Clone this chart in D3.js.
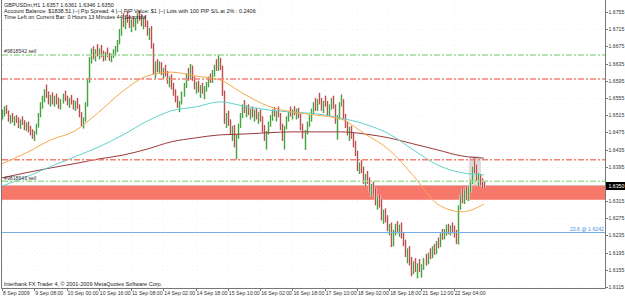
<!DOCTYPE html>
<html>
<head>
<meta charset="utf-8">
<script src="https://cdn.jsdelivr.net/npm/d3@7"></script>
<style>
  html, body { margin: 0; padding: 0; background: #fff; }
  svg { display: block; font-family: 'Liberation Sans', Arial, sans-serif; }
</style>
</head>
<body>
<div id="chart"></div>
<script>
// H1 bars, [open, high, low, close] in pips above 1.6000, one array per day
const sep08 = [[515,528,505,520],[520,535,512,530],[530,538,518,522],[522,526,500,505],[505,515,495,510],[510,520,498,502],[502,512,490,508],[508,515,497,500]];
const sep09 = [[500,510,485,490],[490,505,483,500],[500,512,492,495],[495,503,480,485],[485,498,478,493],[493,500,475,480],[480,490,468,472],[472,482,460,465],[465,478,455,475],[475,495,470,490],[490,520,486,515],[515,545,510,540],[540,560,530,552],[552,575,545,565],[565,586,555,560],[560,570,540,548],[548,562,535,555],[555,568,540,545],[545,560,535,552],[552,565,540,545],[545,556,530,538],[538,552,528,548],[548,565,542,558],[558,572,548,552]];
const sep10 = [[552,560,538,545],[545,555,532,550],[550,562,540,542],[542,550,528,535],[535,548,525,545],[545,555,530,532],[532,540,510,515],[515,522,490,495],[495,510,484,505],[505,545,500,540],[540,600,535,595],[595,650,590,645],[645,670,635,660],[660,675,645,650],[650,668,640,662],[662,680,652,655],[655,670,645,665],[665,678,650,655],[655,665,640,648],[648,662,642,658],[658,672,650,652],[652,660,641,645],[645,658,638,655],[655,668,648,660]];
const sep11 = [[660,676,652,670],[670,690,662,685],[685,715,680,710],[710,740,700,735],[735,752,720,728],[728,745,715,740],[740,757,730,735],[735,748,718,722],[722,738,708,730],[730,745,720,725],[725,740,712,735],[735,752,728,745],[745,758,735,740],[740,750,722,728],[728,742,715,735],[735,748,720,725],[725,735,700,705],[705,718,690,712],[712,722,670,675],[675,682,610,620],[620,640,600,632],[632,645,615,625]];
const sep14 = [[625,640,612,630],[630,638,608,612],[612,625,600,620],[620,632,605,610],[610,618,588,592],[592,605,580,600],[600,610,575,580],[580,590,560,565],[565,575,545,550],[550,560,532,540],[540,548,522,545],[545,570,540,565],[565,590,558,585],[585,612,578,605],[605,625,595,600],[600,634,598,625],[625,630,595,598],[598,605,575,580],[580,592,565,585],[585,595,568,572],[572,585,555,580],[580,590,565,570],[570,582,552,575],[575,592,570,588]];
const sep15 = [[588,605,580,600],[600,612,590,595],[595,620,590,615],[615,632,605,628],[628,645,618,622],[622,656,618,640],[640,648,620,625],[625,630,560,565],[565,572,495,500],[500,520,485,510],[510,525,490,495],[495,505,470,475],[475,490,455,485],[485,492,440,445],[445,470,412,465],[465,495,460,490],[490,520,485,515],[515,540,508,535],[535,550,520,525],[525,538,510,532],[532,540,515,518],[518,530,505,525],[525,535,510,515],[515,528,500,520]];
const sep16 = [[520,532,505,510],[510,522,495,518],[518,528,500,505],[505,512,475,480],[480,492,455,460],[460,478,435,475],[475,500,470,495],[495,515,488,510],[510,528,502,520],[520,534,512,515],[515,525,500,522],[522,535,510,512],[512,520,480,485],[485,495,455,460],[460,490,435,488],[488,512,482,508],[508,525,500,520],[520,535,512,515],[515,528,505,525],[525,536,515,518],[518,530,505,522],[522,532,508,510],[510,518,480,485],[485,495,460,465]];
const sep17 = [[465,480,434,475],[475,500,470,495],[495,515,488,510],[510,530,500,525],[525,545,518,540],[540,555,525,530],[530,552,525,548],[548,567,540,545],[545,555,525,530],[530,548,520,542],[542,560,535,538],[538,548,515,520],[520,540,512,535],[535,555,528,550],[550,560,530,532],[532,540,495,500],[500,515,458,510],[510,545,505,540],[540,563,535,545],[545,552,505,510],[510,518,485,490],[490,500,468,475],[475,488,455,480],[480,490,460,465]];
const sep18 = [[465,475,440,445],[445,455,420,425],[425,432,385,390],[390,405,378,400],[400,410,380,385],[385,395,355,362],[362,378,350,372],[372,385,355,360],[360,370,335,340],[340,355,325,350],[350,360,330,335],[335,345,305,310],[310,325,295,320],[320,330,300,305],[305,320,270,280],[280,295,262,288],[288,298,265,270],[270,282,245,250],[250,262,235,258],[258,265,208,215],[215,248,210,242],[242,262,235,255]];
const sep21 = [[255,268,240,245],[245,260,232,250],[250,265,228,232],[232,242,210,215],[215,225,185,190],[190,205,170,200],[200,210,165,170],[170,185,140,148],[148,175,145,170],[170,182,150,155],[155,170,135,165],[165,180,150,152],[152,168,137,160],[160,182,155,178],[178,192,165,170],[170,195,168,190],[190,205,180,185],[185,210,182,205],[205,215,190,195],[195,222,192,218],[218,230,205,210],[210,240,208,235],[235,250,225,230],[230,250,226,245]];
const sep22 = [[245,260,235,250],[250,262,238,242],[242,258,235,255],[255,265,240,245],[245,258,230,235],[235,248,215,220],[220,305,214,300],[300,330,295,325],[325,345,310,315],[315,340,308,335],[335,350,318,322],[322,348,315,345],[345,365,335,360],[360,395,355,390],[390,415,380,385],[385,400,362,368],[368,380,350,372],[372,378,352,358],[358,368,345,357],[357,361,346,350]];

const priceBase = 1.6;
const pip = 0.0001;

// Moving averages (pips above 1.6000) at these bar indices
const maBars = [0,12,24,36,48,60,72,84,96,108,120,132,144,156,168,180,192,204,216,228,239];
const maOrange = [402,427,457,478,522,571,606,615,606,597,564,536,522,515,506,471,434,374,308,290,308];
const maCyan = [350,371,395,418,441,469,501,525,534,546,536,527,522,518,508,494,471,434,399,381,376];
const maBrown = [369,381,392,402,413,422,436,453,462,469,471,474,476,476,476,471,462,448,434,420,415];

// Axis ticks
const priceTicks = [1.6755,1.6715,1.6675,1.6635,1.6595,1.6555,1.6515,1.6475,1.6435,1.6395,1.6315,1.6275,1.6235,1.6195,1.6155,1.6115];
const timeTickBars = [0,16,32,48,64,80,96,112,128,144,160,176,192,208,224];
const timeLabels = ['8 Sep 2009','9 Sep 08:00','10 Sep 00:00','10 Sep 16:00','11 Sep 08:00','14 Sep 02:00','14 Sep 18:00','15 Sep 10:00','16 Sep 02:00','16 Sep 18:00','17 Sep 10:00','18 Sep 02:00','18 Sep 18:00','21 Sep 12:00','22 Sep 04:00'];

// Objects on the chart
const orderLevels = [1.6655, 1.6361];
const orderNames = ['#9818542 sell', '#9818643 sell'];
const stopLevels = [1.6599, 1.6411];
const fibLevel = 1.6242;
const fibText = '23.6 @ 1.6242';
const zone = [1.6350, 1.6318];
const lastPrice = 1.6350;
const highlightBars = [233, 236];
const highlightPrices = [1.6420, 1.6352];

const headerLines = [
  'GBPUSDm,H1  1.6357 1.6361 1.6346 1.6350',
  'Account Balance: $1838.51 |--| Pip Spread: 4 |--| PIP Value: $1 |--| Lots with 100 PIP S/L at 2% : 0.2406',
  'Time Left on Current Bar: 0 Hours 13 Minutes 44 Seconds'
];
const copyright = 'Interbank FX Trader 4, \u00a9 2001-2009 MetaQuotes Software Corp.';

const bars = [].concat(sep08, sep09, sep10, sep11, sep14, sep15, sep16, sep17, sep18, sep21, sep22);
const price = v => priceBase + v * pip;

// Set up dimensions
const width = 625, height = 297;
const plotRight = 605, plotBottom = 288;

const svg = d3.select('#chart')
  .append('svg')
    .attr('width', width)
    .attr('height', height);

svg.append('rect')
  .attr('width', width)
  .attr('height', height)
  .attr('fill', '#ffffff');

const x = d3.scaleLinear()
  .domain([0, 239])
  .range([2, 484]);

const y = d3.scaleLinear()
  .domain([1.6115, 1.6755])
  .range([287, 12]);

const snap = v => Math.round(v) + 0.5;

// Dotted grid
svg.append('g')
  .selectAll('line')
  .data(priceTicks)
  .join('line')
    .attr('x1', 2).attr('x2', plotRight)
    .attr('y1', d => snap(y(d))).attr('y2', d => snap(y(d)))
    .attr('stroke', '#e4e4e4')
    .attr('stroke-width', 0.6)
    .attr('stroke-dasharray', '1,4');

svg.append('g')
  .selectAll('line')
  .data(timeTickBars)
  .join('line')
    .attr('x1', d => snap(x(d))).attr('x2', d => snap(x(d)))
    .attr('y1', 0).attr('y2', plotBottom)
    .attr('stroke', '#e4e4e4')
    .attr('stroke-width', 0.6)
    .attr('stroke-dasharray', '1,4');

// Filled zone (rectangle object)
svg.append('rect')
  .attr('x', 2)
  .attr('y', y(zone[0]))
  .attr('width', plotRight - 2)
  .attr('height', y(zone[1]) - y(zone[0]))
  .attr('fill', '#f8776b');

svg.append('line')
  .attr('x1', 2).attr('x2', plotRight)
  .attr('y1', y(zone[0]) - 0.5).attr('y2', y(zone[0]) - 0.5)
  .attr('stroke', '#d9b8b4')
  .attr('stroke-width', 1.2);

// Grey highlight around the latest swing
svg.append('rect')
  .attr('x', x(highlightBars[0]) - 3)
  .attr('y', y(highlightPrices[0]))
  .attr('width', x(highlightBars[1]) - x(highlightBars[0]) + 6)
  .attr('height', y(highlightPrices[1]) - y(highlightPrices[0]))
  .attr('rx', 3)
  .attr('fill', '#c4c4c4')
  .attr('opacity', 0.6);

// Price bars
const barG = svg.append('g');
barG.selectAll('line.halo')
  .data(bars)
  .join('line')
    .attr('class', 'halo')
    .attr('x1', (d, i) => snap(x(i))).attr('x2', (d, i) => snap(x(i)))
    .attr('y1', d => y(price(d[1]))).attr('y2', d => y(price(d[2])))
    .attr('stroke', d => d[3] >= d[0] ? '#c2e2bc' : '#f0c6c6')
    .attr('stroke-width', 2.4);

barG.selectAll('line.bar')
  .data(bars)
  .join('line')
    .attr('class', 'bar')
    .attr('x1', (d, i) => snap(x(i))).attr('x2', (d, i) => snap(x(i)))
    .attr('y1', d => y(price(d[1]))).attr('y2', d => y(price(d[2])))
    .attr('stroke', d => d[3] >= d[0] ? '#48a048' : '#b85252')
    .attr('stroke-width', 1);

// Moving averages
const maLine = d3.line()
  .x((d, i) => x(maBars[i]))
  .y(d => y(price(d)))
  .curve(d3.curveMonotoneX);

[[maBrown, '#9c3a3a'], [maCyan, '#5fd3cc'], [maOrange, '#f6a94e']].forEach(([vals, col]) => {
  svg.append('path')
    .datum(vals)
    .attr('fill', 'none')
    .attr('stroke', col)
    .attr('stroke-width', 1)
    .attr('d', maLine);
});

// Horizontal dash-dot lines
const dashDot = '6,2,2,2';
svg.append('g')
  .selectAll('line')
  .data(orderLevels)
  .join('line')
    .attr('x1', 2).attr('x2', plotRight)
    .attr('y1', d => y(d)).attr('y2', d => y(d))
    .attr('stroke', '#9edc98')
    .attr('stroke-width', 1.4)
    .attr('stroke-dasharray', dashDot);

svg.append('g')
  .selectAll('line')
  .data(stopLevels)
  .join('line')
    .attr('x1', 2).attr('x2', plotRight)
    .attr('y1', d => y(d)).attr('y2', d => y(d))
    .attr('stroke', '#f48274')
    .attr('stroke-width', 1.4)
    .attr('stroke-dasharray', dashDot);

svg.append('g')
  .selectAll('text')
  .data(orderLevels)
  .join('text')
    .attr('x', 4)
    .attr('y', d => y(d) - 1.5)
    .style('font-size', '5.2px')
    .style('fill', '#333')
    .text((d, i) => orderNames[i]);

// Fibonacci level
svg.append('line')
  .attr('x1', 2).attr('x2', plotRight)
  .attr('y1', snap(y(fibLevel))).attr('y2', snap(y(fibLevel)))
  .attr('stroke', '#74aee8')
  .attr('stroke-width', 1);

svg.append('text')
  .attr('x', plotRight - 1)
  .attr('y', y(fibLevel) - 1.5)
  .attr('text-anchor', 'end')
  .style('font-size', '5.2px')
  .style('fill', '#4b8fdb')
  .text(fibText);

// Frame
svg.append('path')
  .attr('d', `M1.5,0V${plotBottom + 0.5}H${plotRight + 0.5}V0`)
  .attr('fill', 'none')
  .attr('stroke', '#777')
  .attr('stroke-width', 1);

// Price axis
svg.append('g')
  .selectAll('line')
  .data(priceTicks)
  .join('line')
    .attr('x1', plotRight).attr('x2', plotRight + 3)
    .attr('y1', d => snap(y(d))).attr('y2', d => snap(y(d)))
    .attr('stroke', '#777');

svg.append('g')
  .selectAll('text')
  .data(priceTicks)
  .join('text')
    .attr('x', plotRight + 3.5)
    .attr('y', d => y(d) + 2)
    .style('font-size', '5.2px')
    .style('fill', '#333')
    .text(d => d.toFixed(4));

svg.append('rect')
  .attr('x', plotRight + 1)
  .attr('y', y(lastPrice) - 4)
  .attr('width', width - plotRight - 1)
  .attr('height', 8)
  .attr('fill', '#000');

svg.append('text')
  .attr('x', plotRight + 3.5)
  .attr('y', y(lastPrice) + 2)
  .style('font-size', '5.2px')
  .style('fill', '#fff')
  .text(lastPrice.toFixed(4));

// Time axis
svg.append('g')
  .selectAll('line')
  .data(timeTickBars)
  .join('line')
    .attr('x1', d => snap(x(d))).attr('x2', d => snap(x(d)))
    .attr('y1', plotBottom).attr('y2', plotBottom + 3)
    .attr('stroke', '#777');

svg.append('g')
  .selectAll('text')
  .data(timeTickBars)
  .join('text')
    .attr('x', d => x(d) + 1)
    .attr('y', 295)
    .style('font-size', '5.2px')
    .style('fill', '#333')
    .text((d, i) => timeLabels[i]);

// Header and footer texts
svg.append('g')
  .selectAll('text')
  .data(headerLines)
  .join('text')
    .attr('x', 4)
    .attr('y', (d, i) => 7 + i * 6)
    .style('font-size', '5.5px')
    .style('fill', '#222')
    .text(d => d);

svg.append('text')
  .attr('x', 4)
  .attr('y', 286)
  .style('font-size', '5.5px')
  .style('fill', '#222')
  .text(copyright);
</script>
</body>
</html>
